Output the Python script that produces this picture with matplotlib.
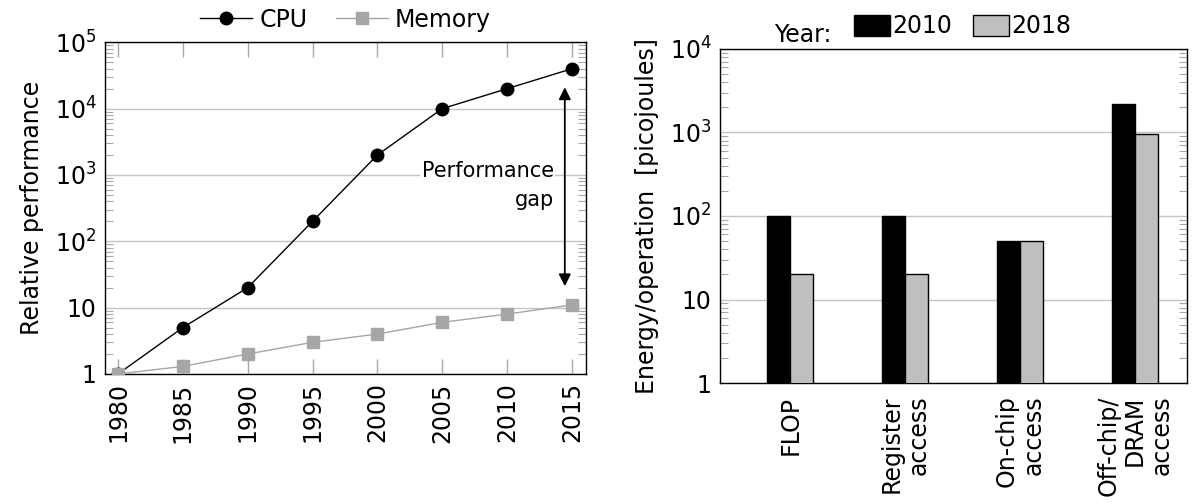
import matplotlib
matplotlib.use("Agg")
import matplotlib.pyplot as plt
from matplotlib.lines import Line2D
from matplotlib.ticker import FixedLocator, FuncFormatter, LogLocator, NullFormatter
import numpy as np

plt.rcParams["font.family"] = ["DejaVu Sans"]
plt.rcParams["mathtext.default"] = "regular"
plt.rcParams["font.size"] = 14

# CPU vs memory performance, relative to 1980
years = [1980, 1985, 1990, 1995, 2000, 2005, 2010, 2015]
cpu_perf = [1, 5, 20, 200, 2000, 10000, 20000, 40000]
mem_perf = [1, 1.3, 2, 3, 4, 6, 8, 11]

# energy per operation (pJ)
ops = ["FLOP", "Register\naccess", "On-chip\naccess", "Off-chip/\nDRAM\naccess"]
energy_2010 = [100, 100, 50, 2200]
energy_2018 = [20, 20, 50, 950]
bar_years = ["2010", "2018"]

GRID = "#c4c4c4"
TICK = "#a8a8a8"
MEM = "#a6a6a6"
BAR18 = "#bfbfbf"


def log_label(v, pos):
    if v <= 1:
        return "1"
    if v < 50:
        return "10"
    return r"$10^{%d}$" % round(np.log10(v))


def style_log_axis(ax):
    ax.set_yscale("log")
    ax.yaxis.set_major_formatter(FuncFormatter(log_label))
    ax.yaxis.set_minor_locator(LogLocator(base=10, subs=np.arange(2, 10)))
    ax.yaxis.set_minor_formatter(NullFormatter())
    ax.tick_params(axis="y", which="major", direction="in", length=0,
                   labelsize=17, pad=6, right=True)
    ax.tick_params(axis="y", which="minor", direction="in", length=6,
                   width=0.8, color=TICK, right=True)
    ax.grid(axis="y", which="major", color=GRID, lw=1)
    ax.set_axisbelow(True)
    for s in ax.spines.values():
        s.set_linewidth(1.0)


fig = plt.figure(figsize=(12, 5.04), dpi=100)

# left panel: performance gap
ax1 = fig.add_axes([0.0875, 0.258, 0.401, 0.658])
style_log_axis(ax1)
ax1.plot(years, cpu_perf, color="black", lw=1, marker="o", ms=9, zorder=3)
ax1.plot(years, mem_perf, color=MEM, lw=1, marker="s", ms=8, zorder=3)
ax1.set_xlim(1979.0, 2016.1)
ax1.set_ylim(1, 1e5)
ax1.xaxis.set_major_locator(FixedLocator(years))
ax1.tick_params(axis="x", direction="in", length=11, width=1, color=TICK,
                top=True, labelrotation=90, labelsize=17, pad=6)
ax1.set_ylabel("Relative performance", fontsize=17, labelpad=8)

ax1.annotate("", xy=(2014.45, 2.1e4), xytext=(2014.45, 21),
             arrowprops=dict(arrowstyle="<|-|>", color="black", lw=1.3,
                             mutation_scale=18, shrinkA=0, shrinkB=0))
ax1.text(2013.6, 1650, "Performance\ngap", ha="right", va="top",
         multialignment="right", fontsize=15, linespacing=1.6,
         bbox=dict(facecolor="white", edgecolor="none", pad=1))

leg_handles = [
    Line2D([], [], color="black", lw=1, marker="o", ms=9),
    Line2D([], [], color=MEM, lw=1, marker="s", ms=8),
]
ax1.legend(leg_handles, ["CPU", "Memory"], loc="lower center",
           bbox_to_anchor=(0.5, 1.0), ncol=2, frameon=False, fontsize=17,
           handlelength=2.2, columnspacing=1.2, handletextpad=0.3,
           borderaxespad=0.05)

# right panel: energy per operation
ax2 = fig.add_axes([0.6, 0.24, 0.389, 0.663])
style_log_axis(ax2)
x = np.arange(len(ops))
w = 0.2
ax2.bar(x - w / 2, energy_2010, width=w, color="black", edgecolor="black",
        lw=1, zorder=3, label=bar_years[0])
ax2.bar(x + w / 2, energy_2018, width=w, color=BAR18, edgecolor="black",
        lw=1, zorder=3, label=bar_years[1])
ax2.set_xlim(-0.61, 3.45)
ax2.set_ylim(1, 1e4)
ax2.set_xticks(x)
ax2.set_xticklabels(ops, rotation=90, ha="center", va="top",
                    multialignment="right", linespacing=1.15)
ax2.tick_params(axis="x", length=0, labelsize=17, pad=9)
ax2.set_ylabel("Energy/operation  [picojoules]", fontsize=17, labelpad=8)

ax2.legend(loc="lower center", bbox_to_anchor=(0.52, 1.0), ncol=2,
           frameon=False, fontsize=17, handlelength=1.5, handleheight=1.0,
           columnspacing=0.9, handletextpad=0.1, borderaxespad=0.05)
ax2.text(0.238, 1.005, "Year:", transform=ax2.transAxes, ha="right",
         va="bottom", fontsize=17)

fig.savefig("out.png", dpi=100)
